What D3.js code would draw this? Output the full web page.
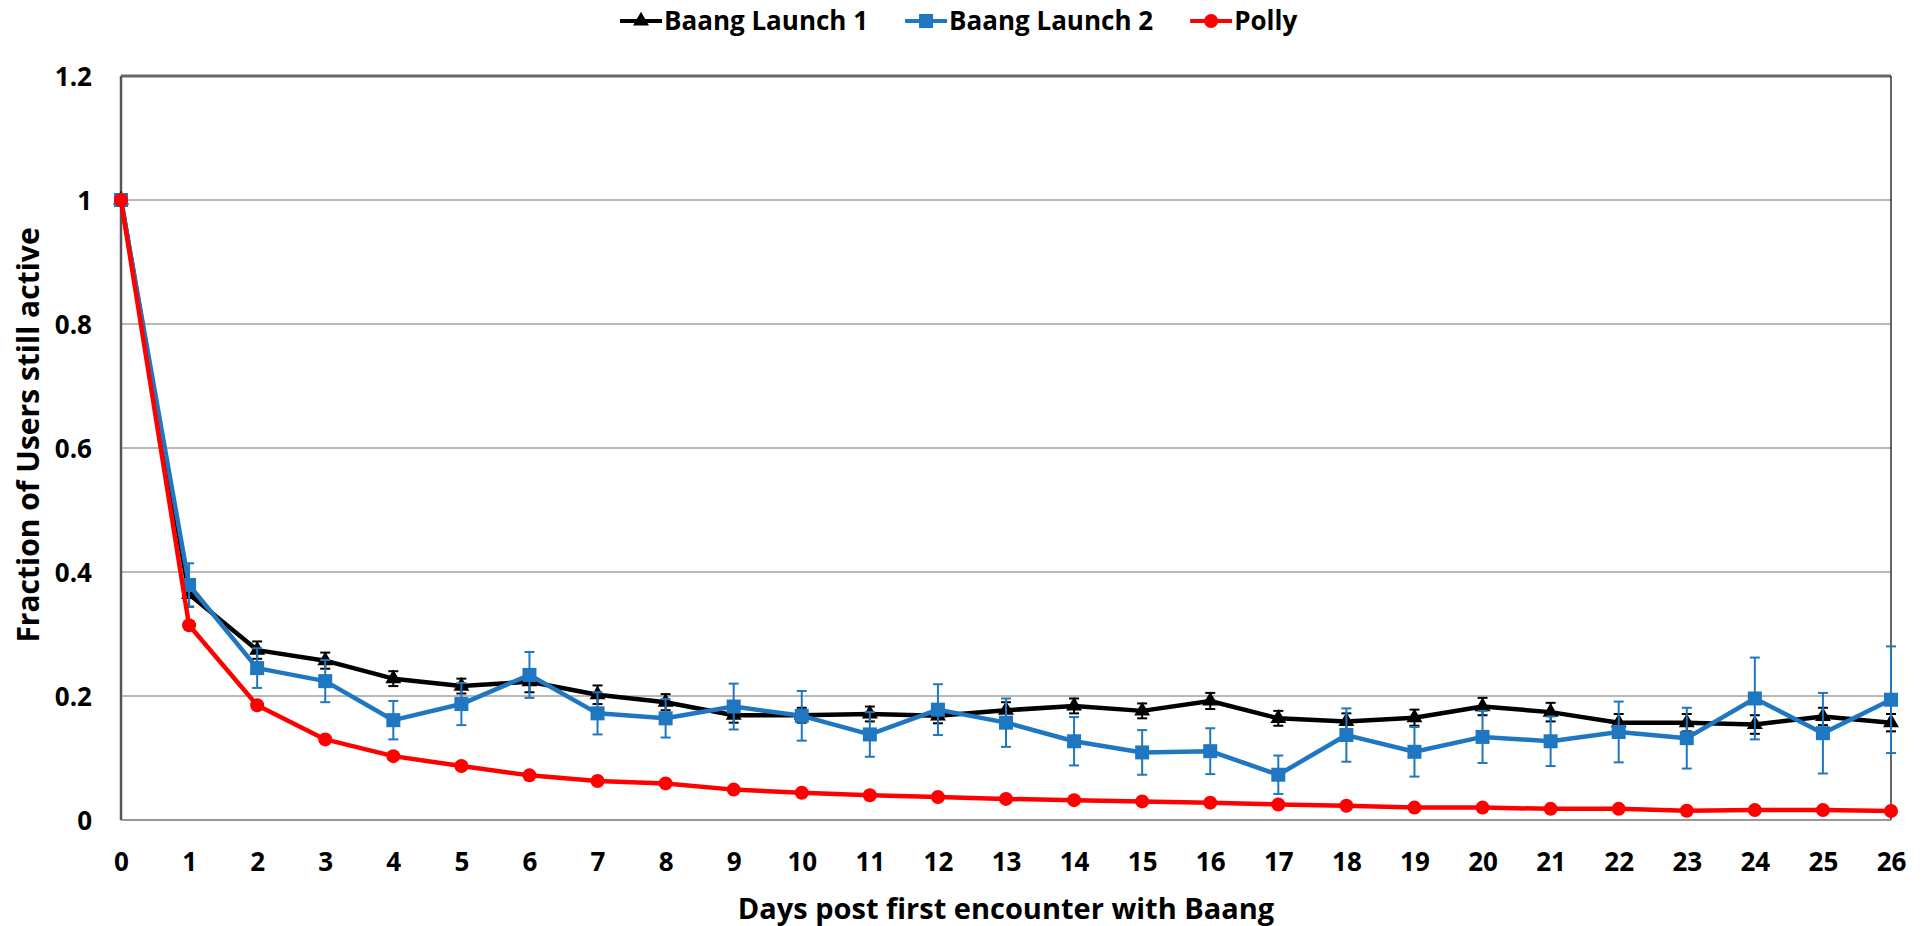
<!DOCTYPE html>
<html>
<head>
<meta charset="utf-8">
<script src="https://cdn.jsdelivr.net/npm/d3@7"></script>
<style>
  html, body { margin: 0; padding: 0; background: #fff; }
  svg { display: block; }
  text { font-family: "Open Sans", sans-serif; font-weight: 700; fill: #000; }
</style>
</head>
<body>
<svg id="chart" width="1927" height="926"></svg>
<script>
// ---- data ----
const days = [0,1,2,3,4,5,6,7,8,9,10,11,12,13,14,15,16,17,18,19,20,21,22,23,24,25,26];
const launch1 = [1.0,0.364,0.274,0.257,0.228,0.216,0.223,0.202,0.190,0.169,0.169,0.171,0.168,0.177,0.184,0.176,0.192,0.164,0.159,0.165,0.183,0.174,0.157,0.157,0.154,0.167,0.157];
const launch1Err = [0,0.02,0.014,0.013,0.012,0.012,0.017,0.015,0.013,0.012,0.012,0.012,0.012,0.013,0.012,0.012,0.013,0.012,0.013,0.013,0.014,0.015,0.014,0.014,0.015,0.014,0.014];
const launch2 = [1.0,0.379,0.245,0.224,0.161,0.187,0.234,0.172,0.164,0.183,0.168,0.138,0.178,0.157,0.127,0.109,0.111,0.073,0.137,0.110,0.134,0.127,0.142,0.132,0.196,0.140,0.194];
const launch2Err = [0,0.035,0.032,0.034,0.031,0.034,0.037,0.034,0.031,0.037,0.040,0.036,0.041,0.039,0.039,0.036,0.037,0.031,0.043,0.040,0.042,0.040,0.049,0.049,0.066,0.065,0.086];
const polly = [1.0,0.314,0.185,0.130,0.103,0.087,0.072,0.063,0.059,0.049,0.044,0.040,0.037,0.034,0.032,0.030,0.028,0.025,0.023,0.020,0.020,0.018,0.018,0.015,0.016,0.016,0.0145];
const yTicks = [0,0.2,0.4,0.6,0.8,1.0,1.2];
const yTickLabels = ["0","0.2","0.4","0.6","0.8","1","1.2"];
const seriesNames = ["Baang Launch 1","Baang Launch 2","Polly"];
const xTitle = "Days post first encounter with Baang";
const yTitle = "Fraction of Users still active";

const series = [
  {name: seriesNames[0], values: launch1, err: launch1Err, color: "#000000", marker: "triangle"},
  {name: seriesNames[1], values: launch2, err: launch2Err, color: "#1F77C1", marker: "square"},
  {name: seriesNames[2], values: polly, err: null, color: "#FF0000", marker: "circle"}
];

// ---- layout ----
const svg = d3.select("#chart");
const L = 121, R = 1891, T = 76, B = 820;
const x = d3.scaleLinear().domain([0, 26]).range([L, R]);
const y = d3.scaleLinear().domain([0, 1.2]).range([B, T]);

// gridlines
svg.append("g").selectAll("line")
  .data(yTicks.filter(v => v > 0 && v < 1.2))
  .join("line")
  .attr("x1", L).attr("x2", R)
  .attr("y1", d => y(d)).attr("y2", d => y(d))
  .attr("stroke", "#a0a0a0").attr("stroke-width", 1.5);

// frame
svg.append("line").attr("x1", L).attr("x2", R).attr("y1", T).attr("y2", T)
  .attr("stroke", "#666").attr("stroke-width", 3);
svg.append("line").attr("x1", L).attr("x2", R).attr("y1", B).attr("y2", B)
  .attr("stroke", "#999").attr("stroke-width", 2);
svg.append("line").attr("x1", R).attr("x2", R).attr("y1", T).attr("y2", B)
  .attr("stroke", "#333").attr("stroke-width", 1.5);
svg.append("line").attr("x1", L).attr("x2", L).attr("y1", T).attr("y2", B)
  .attr("stroke", "#555").attr("stroke-width", 2.5);

// axes (labels only)
const yAxis = d3.axisLeft(y).tickValues(yTicks)
  .tickFormat((d, i) => yTickLabels[i]).tickSize(0).tickPadding(0);
const gy = svg.append("g").attr("transform", `translate(${L - 29},0)`).call(yAxis);
gy.select(".domain").remove();
gy.selectAll("text").style("font-family", "'Open Sans', sans-serif")
  .style("font-weight", 700).style("font-size", "26px").attr("fill", "#000").attr("dy", "0.35em");

const xAxis = d3.axisBottom(x).tickValues(days).tickFormat(d => String(d)).tickSize(0).tickPadding(0);
const gx = svg.append("g").attr("transform", `translate(0,${B + 42})`).call(xAxis);
gx.select(".domain").remove();
gx.selectAll("text").style("font-family", "'Open Sans', sans-serif")
  .style("font-weight", 700).style("font-size", "26px").attr("fill", "#000").attr("dy", "0.35em");

// titles
svg.append("text").attr("x", (L + R) / 2).attr("y", 909).attr("text-anchor", "middle")
  .attr("dy", "0.35em").style("font-size", "29px").text(xTitle);
svg.append("text").attr("transform", "translate(28,435) rotate(-90)").attr("text-anchor", "middle")
  .attr("dy", "0.35em").style("font-size", "30px").text(yTitle);

// marker helper
function drawMarker(g, type, cx, cy, color) {
  if (type === "triangle") {
    g.append("path").attr("d", d3.symbol().type(d3.symbolTriangle).size(110)())
      .attr("transform", `translate(${cx},${cy})`).attr("fill", color);
  } else if (type === "square") {
    g.append("rect").attr("x", cx - 7).attr("y", cy - 7).attr("width", 14).attr("height", 14)
      .attr("fill", color);
  } else {
    g.append("circle").attr("cx", cx).attr("cy", cy).attr("r", 7).attr("fill", color);
  }
}

const line = d3.line().x((d, i) => x(days[i])).y(d => y(d));

series.forEach(s => {
  const g = svg.append("g");
  if (s.err) {
    const eg = g.append("g").attr("stroke", s.color).attr("stroke-width", 2);
    s.values.forEach((v, i) => {
      const e = s.err[i];
      if (!e) return;
      const cx = x(days[i]);
      eg.append("line").attr("x1", cx).attr("x2", cx).attr("y1", y(v - e)).attr("y2", y(v + e));
      eg.append("line").attr("x1", cx - 5).attr("x2", cx + 5).attr("y1", y(v - e)).attr("y2", y(v - e));
      eg.append("line").attr("x1", cx - 5).attr("x2", cx + 5).attr("y1", y(v + e)).attr("y2", y(v + e));
    });
  }
  g.append("path").datum(s.values).attr("d", line).attr("fill", "none")
    .attr("stroke", s.color).attr("stroke-width", 4.5).attr("stroke-linejoin", "round");
  s.values.forEach((v, i) => drawMarker(g, s.marker, x(days[i]), y(v), s.color));
});

// legend
const lg = svg.append("g");
let lx = 620;
const ly = 21;
series.forEach(s => {
  lg.append("line").attr("x1", lx).attr("x2", lx + 42).attr("y1", ly).attr("y2", ly)
    .attr("stroke", s.color).attr("stroke-width", 4);
  drawMarker(lg, s.marker, lx + 21, ly, s.color);
  const t = lg.append("text").attr("x", lx + 44).attr("y", ly).attr("dy", "0.35em")
    .style("font-size", "26px").text(s.name);
  lx = lx + 44 + t.node().getComputedTextLength() + 37;
});
</script>
</body>
</html>
